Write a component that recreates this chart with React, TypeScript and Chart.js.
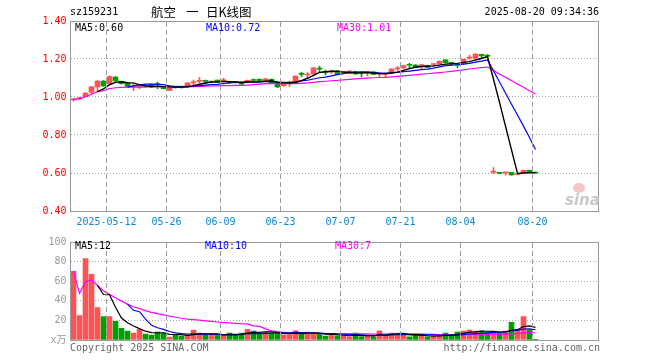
import React, { useEffect, useRef } from 'react';
import { Chart, registerables } from 'chart.js';

Chart.register(...registerables);

// ---- data ----
const opens = [0.985, 0.990, 1.002, 1.025, 1.053, 1.084, 1.070, 1.105, 1.082, 1.072,
  1.055, 1.053, 1.058, 1.067, 1.066, 1.054, 1.035, 1.052, 1.053, 1.055,
  1.074, 1.082, 1.083, 1.079, 1.089, 1.085, 1.076, 1.077, 1.071, 1.082,
  1.089, 1.093, 1.084, 1.093, 1.068, 1.060, 1.072, 1.075, 1.121, 1.116,
  1.121, 1.149, 1.131, 1.131, 1.137, 1.127, 1.123, 1.135, 1.129, 1.127,
  1.132, 1.120, 1.118, 1.125, 1.148, 1.153, 1.168, 1.168, 1.165, 1.167,
  1.171, 1.174, 1.195, 1.178, 1.168, 1.174, 1.205, 1.204, 1.225, 1.216,
  0.603, 0.599, 0.601, 0.603, 0.591, 0.600, 0.614, 0.601];
const closes = [0.988, 0.995, 1.021, 1.053, 1.084, 1.058, 1.107, 1.084, 1.070, 1.056,
  1.056, 1.055, 1.057, 1.053, 1.065, 1.044, 1.047, 1.051, 1.052, 1.074,
  1.075, 1.084, 1.082, 1.081, 1.075, 1.088, 1.075, 1.076, 1.068, 1.086,
  1.087, 1.082, 1.095, 1.072, 1.053, 1.074, 1.073, 1.110, 1.119, 1.117,
  1.153, 1.147, 1.130, 1.132, 1.119, 1.128, 1.137, 1.121, 1.128, 1.128,
  1.119, 1.121, 1.119, 1.147, 1.149, 1.165, 1.167, 1.156, 1.167, 1.156,
  1.172, 1.188, 1.181, 1.177, 1.167, 1.198, 1.207, 1.226, 1.216, 1.215,
  0.604, 0.598, 0.602, 0.590, 0.596, 0.614, 0.604, 0.600];
const highs = [0.993, 1.000, 1.023, 1.056, 1.086, 1.086, 1.112, 1.107, 1.084, 1.074,
  1.068, 1.065, 1.062, 1.068, 1.079, 1.056, 1.049, 1.054, 1.055, 1.075,
  1.089, 1.104, 1.089, 1.084, 1.089, 1.098, 1.079, 1.080, 1.075, 1.089,
  1.095, 1.095, 1.098, 1.095, 1.070, 1.076, 1.084, 1.112, 1.130, 1.128,
  1.155, 1.163, 1.142, 1.142, 1.139, 1.132, 1.139, 1.137, 1.133, 1.133,
  1.133, 1.125, 1.123, 1.149, 1.160, 1.167, 1.177, 1.170, 1.170, 1.168,
  1.174, 1.190, 1.197, 1.184, 1.172, 1.200, 1.219, 1.228, 1.226, 1.223,
  0.628, 0.600, 0.603, 0.604, 0.597, 0.615, 0.615, 0.602];
const lows = [0.978, 0.985, 1.000, 1.016, 1.028, 1.056, 1.068, 1.082, 1.068, 1.054,
  1.033, 1.044, 1.051, 1.051, 1.044, 1.042, 1.033, 1.047, 1.047, 1.053,
  1.063, 1.072, 1.072, 1.075, 1.075, 1.079, 1.072, 1.073, 1.065, 1.079,
  1.086, 1.080, 1.082, 1.070, 1.049, 1.056, 1.054, 1.073, 1.107, 1.100,
  1.119, 1.133, 1.116, 1.121, 1.117, 1.124, 1.121, 1.119, 1.107, 1.111,
  1.117, 1.107, 1.104, 1.123, 1.139, 1.151, 1.151, 1.154, 1.146, 1.154,
  1.160, 1.172, 1.179, 1.167, 1.153, 1.172, 1.198, 1.202, 1.204, 1.209,
  0.598, 0.596, 0.589, 0.589, 0.590, 0.599, 0.602, 0.599];
const volumes = [70, 25, 83, 67, 33, 24, 24, 19, 12, 9,
  7, 11, 6, 5, 8, 7, 3, 5, 4, 5,
  10, 7, 5, 5, 4.5, 5, 7, 5, 7, 11,
  9, 7, 8, 6.7, 7.3, 5.3, 6.7, 9.3, 5.7, 8,
  6.7, 6, 4, 5.7, 4.3, 4.3, 3.3, 7, 3.3, 4,
  3.3, 9.3, 5, 7, 7, 5, 3.3, 5, 5, 3.3,
  3.5, 4.5, 7, 5.7, 8, 9, 10, 9, 9, 7.7,
  8, 7, 9, 18, 10.7, 24, 10.7, 0.7];

const tickIndex = [6, 16, 25, 35, 45, 55, 65, 77];
const tickLabels = ['2025-05-12', '05-26', '06-09', '06-23', '07-07', '07-21', '08-04', '08-20'];
const priceTicks = [0.4, 0.6, 0.8, 1.0, 1.2, 1.4];
const volumeTicks = [0, 20, 40, 60, 80, 100];
const SLOTS = 88;

// ---- styles ----
const RED = '#ff5252';
const GREEN = '#00a000';
const BLUE = '#0000ff';
const MAGENTA = '#ff00ff';
const DATE_BLUE = '#0a88d8';
const GRID = '#aaaaaa';
const MONO = '"DejaVu Sans Mono", "Liberation Mono", "Noto Sans CJK SC", monospace';
const CJK = '"Noto Sans CJK SC", sans-serif';

function movingAvg(src: number[], n: number, partial: boolean): (number | null)[] {
  return src.map((_, i) => {
    if (i < n - 1 && !partial) return null;
    const s = Math.max(0, i - n + 1);
    const w = src.slice(s, i + 1);
    return w.reduce((a, b) => a + b, 0) / w.length;
  });
}

const candleColors = closes.map((c, i) => (c >= opens[i] ? RED : GREEN));
const xOf = (i: number) => i + 0.5;

// vertical dashed date lines and the plot frame
const framePlugin = {
  id: 'frame',
  afterDraw(chart: any) {
    const ctx = chart.ctx;
    const a = chart.chartArea;
    const xs = chart.scales['x'];
    ctx.save();
    ctx.fillStyle = '#9c9c9c';
    for (let k = 0; k < tickIndex.length; k++) {
      let p = xs ? Number(xs.getPixelForValue(tickIndex[k])) : NaN;
      if (!isFinite(p)) p = a.left + ((a.right - a.left) * tickIndex[k]) / SLOTS;
      const px = Math.floor(p);
      for (let y = Math.ceil(a.top) + 1; y < a.bottom; y += 8) {
        ctx.fillRect(px, y, 1, Math.min(5, a.bottom - y));
      }
    }
    ctx.strokeStyle = '#999999';
    ctx.lineWidth = 1;
    const l = Math.floor(a.left) + 0.5;
    const r = Math.floor(a.right) + 0.5;
    const t = Math.floor(a.top) + 0.5;
    const b = Math.floor(a.bottom) + 0.5;
    ctx.strokeRect(l, t, r - l, b - t);
    ctx.restore();
  },
};

function xScale(showLabels: boolean): any {
  return {
    type: 'linear',
    min: 0,
    max: SLOTS,
    offset: false,
    afterBuildTicks: (s: any) => {
      s.ticks = tickIndex.map((v) => ({ value: v }));
    },
    afterFit: (s: any) => {
      s.height = showLabels ? 21 : 0;
    },
    grid: { display: false, drawTicks: false, offset: false },
    border: { display: false },
    ticks: {
      display: showLabels,
      autoSkip: false,
      maxRotation: 0,
      minRotation: 0,
      padding: 5,
      color: DATE_BLUE,
      font: { family: MONO, size: 10 },
      callback: (v: any) => {
        const k = tickIndex.indexOf(Number(v));
        return k >= 0 ? tickLabels[k] : '';
      },
    },
  };
}

function lineDs(values: (number | null)[], color: string, width: number): any {
  return {
    type: 'line',
    data: values.map((v, i) => ({ x: xOf(i), y: v })),
    borderColor: color,
    backgroundColor: color,
    borderWidth: width,
    pointRadius: 0,
    tension: 0,
    order: 0,
  };
}

function PriceChart() {
  const ref = useRef<HTMLCanvasElement | null>(null);
  useEffect(() => {
    if (!ref.current) return;
    const chart = new Chart(ref.current, {
      type: 'bar',
      data: {
        datasets: [
          lineDs(movingAvg(closes, 5, false), '#000000', 1.4),
          lineDs(movingAvg(closes, 10, false), BLUE, 1.2),
          lineDs(movingAvg(closes, 30, true), MAGENTA, 1.2),
          {
            type: 'bar',
            data: closes.map((_, i) => ({ x: xOf(i), y: [opens[i], closes[i]] })),
            backgroundColor: candleColors,
            barThickness: 5,
            minBarLength: 1,
            grouped: false,
            order: 1,
          },
          {
            type: 'bar',
            data: closes.map((_, i) => ({ x: xOf(i), y: [lows[i], highs[i]] })),
            backgroundColor: candleColors,
            barThickness: 1,
            minBarLength: 1,
            grouped: false,
            order: 2,
          },
        ] as any,
      },
      options: {
        animation: false,
        responsive: false,
        events: [],
        layout: { padding: { left: 0, right: 61.5, top: 21, bottom: 0 } },
        plugins: { legend: { display: false }, tooltip: { enabled: false } },
        scales: {
          x: xScale(true),
          y: {
            type: 'linear',
            min: 0.4,
            max: 1.4,
            afterBuildTicks: (s: any) => {
              s.ticks = priceTicks.map((v) => ({ value: v }));
            },
            afterFit: (s: any) => {
              s.width = 70.5;
            },
            grid: { color: GRID, lineWidth: 1, drawTicks: false },
            border: { display: false, dash: [1, 2] },
            ticks: {
              padding: 4,
              color: '#ff0000',
              font: { family: MONO, size: 10 },
              callback: (v: any) => Number(v).toFixed(2),
            },
          },
        } as any,
      },
      plugins: [framePlugin],
    } as any);
    return () => chart.destroy();
  }, []);
  return <canvas ref={ref} width={660} height={232} style={{ position: 'absolute', left: 0, top: 0 }} />;
}

function VolumeChart() {
  const ref = useRef<HTMLCanvasElement | null>(null);
  useEffect(() => {
    if (!ref.current) return;
    const chart = new Chart(ref.current, {
      type: 'bar',
      data: {
        datasets: [
          lineDs(movingAvg(volumes, 5, false), '#000000', 1.2),
          lineDs(movingAvg(volumes, 10, false), BLUE, 1.2),
          lineDs(movingAvg(volumes, 30, true), MAGENTA, 1.2),
          {
            type: 'bar',
            data: volumes.map((v, i) => ({ x: xOf(i), y: v })),
            backgroundColor: candleColors,
            barThickness: 5,
            grouped: false,
            order: 1,
          },
        ] as any,
      },
      options: {
        animation: false,
        responsive: false,
        events: [],
        layout: { padding: { left: 0, right: 61.5, top: 8, bottom: 20 } },
        plugins: { legend: { display: false }, tooltip: { enabled: false } },
        scales: {
          x: xScale(false),
          y: {
            type: 'linear',
            min: 0,
            max: 100,
            afterBuildTicks: (s: any) => {
              s.ticks = volumeTicks.map((v) => ({ value: v }));
            },
            afterFit: (s: any) => {
              s.width = 70.5;
            },
            grid: { color: GRID, lineWidth: 1, drawTicks: false },
            border: { display: false, dash: [1, 2] },
            ticks: {
              padding: 4,
              color: '#999999',
              font: { family: MONO, size: 10 },
              callback: (v: any) => (Number(v) === 0 ? 'x万' : String(v)),
            },
          },
        } as any,
      },
      plugins: [framePlugin],
    } as any);
    return () => chart.destroy();
  }, []);
  return <canvas ref={ref} width={660} height={128} style={{ position: 'absolute', left: 0, top: 232 }} />;
}

function Txt(props: { x: number; y: number; text: string; color?: string; size?: number; font?: string; right?: boolean; style?: any }) {
  const { x, y, text, color = '#000', size = 10, font = MONO, right = false, style = {} } = props;
  const s: any = {
    position: 'absolute',
    top: y - 8,
    height: 16,
    lineHeight: '16px',
    fontFamily: font,
    fontSize: size,
    color,
    whiteSpace: 'pre',
    ...style,
  };
  if (right) s.right = 660 - x;
  else s.left = x;
  return <div style={s}>{text}</div>;
}

export default function App() {
  return (
    <div style={{ position: 'fixed', left: 0, top: 0, width: 660, height: 360, background: '#fff', overflow: 'hidden' }}>
      <PriceChart />
      <VolumeChart />
      <Txt x={70} y={12} text="sz159231" />
      <Txt x={151} y={12} text="航空" size={12.5} font={CJK} />
      <Txt x={186} y={12} text="一" size={12.5} font={CJK} />
      <Txt x={206} y={12} text="日K线图" size={12.5} font={CJK} />
      <Txt x={599} y={12} text="2025-08-20 09:34:36" right />
      <Txt x={75} y={27.5} text="MA5:0.60" />
      <Txt x={206} y={27.5} text="MA10:0.72" color={BLUE} />
      <Txt x={337} y={27.5} text="MA30:1.01" color={MAGENTA} />
      <Txt x={75} y={246} text="MA5:12" />
      <Txt x={205} y={246} text="MA10:10" color={BLUE} />
      <Txt x={335} y={246} text="MA30:7" color={MAGENTA} />
      <Txt x={70} y={348} text="Copyright 2025 SINA.COM" color="#666" />
      <Txt x={600} y={348} text="http://finance.sina.com.cn" color="#666" right />
      <div style={{ position: 'absolute', left: 573, top: 183, width: 12, height: 10, borderRadius: '50%', background: '#f4c6c6' }} />
      <Txt x={565} y={200} text="sina" color="#c8c8c8" size={15} font='"DejaVu Sans", sans-serif' style={{ fontStyle: 'italic', fontWeight: 'bold' }} />
    </div>
  );
}
